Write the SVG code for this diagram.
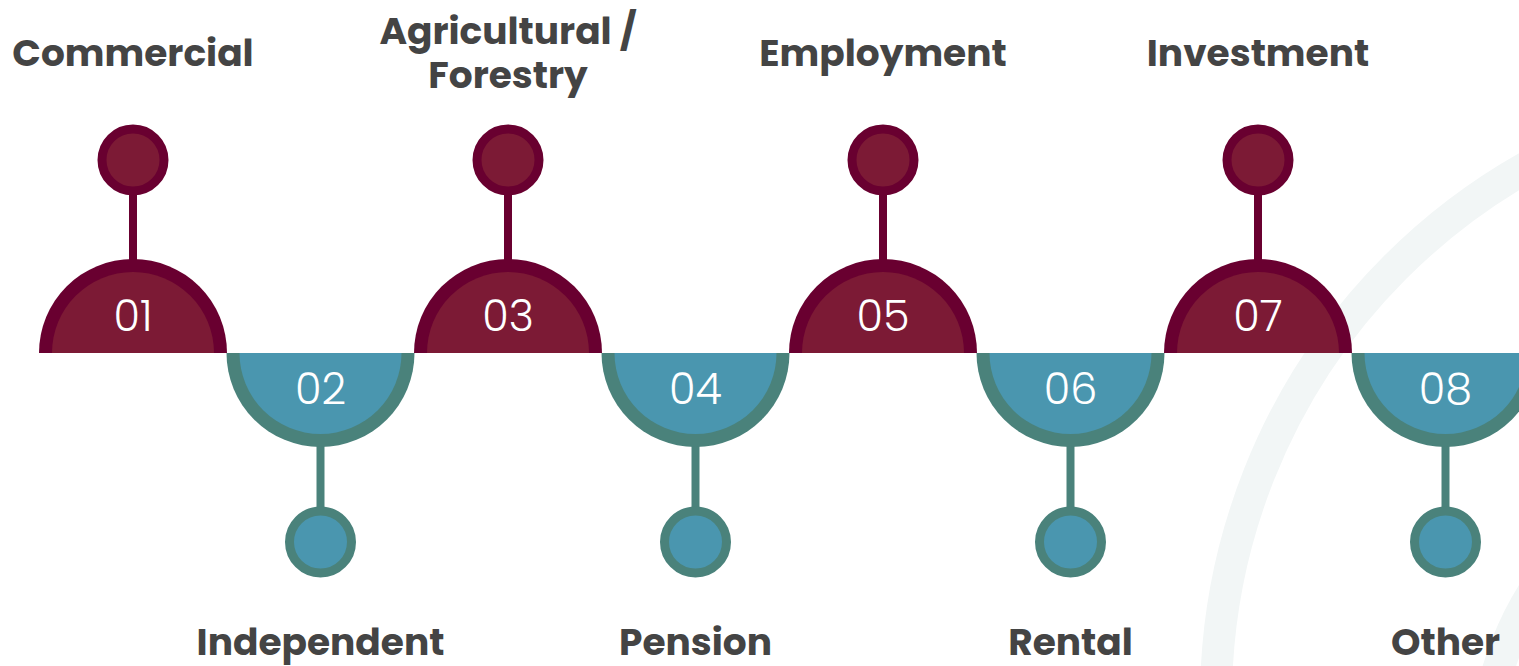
<svg xmlns="http://www.w3.org/2000/svg" width="1519" height="666" viewBox="0 0 1519 666">
<style>
.bg{fill:none;stroke:#F2F6F6;stroke-width:32}
.mo{fill:#690030}
.mi{fill:#7C1A35}
.to{fill:#4A827B}
.ti{fill:#4A96AF}
.mc{fill:#7C1A35;stroke:#690030;stroke-width:9}
.tc{fill:#4A96AF;stroke:#4A827B;stroke-width:9}
.ms{stroke:#690030;stroke-width:8}
.ts{stroke:#4A827B;stroke-width:8}
.num{font-family:Poppins,Inter,"Open Sans",sans-serif;font-weight:300;font-size:43px;fill:#ffffff;text-anchor:middle}
.lbl{font-family:Poppins,Inter,"Open Sans",sans-serif;font-weight:700;font-size:37.5px;fill:#444444;text-anchor:middle}
</style>
<rect width="1519" height="666" fill="#ffffff"/>
<circle class="bg" cx="1828" cy="700" r="612"/>
<circle class="bg" cx="1800" cy="760" r="315"/>
<g id="connectors">
<line class="ms" x1="133" y1="195" x2="133" y2="262"/>
<line class="ts" x1="320.5" y1="445" x2="320.5" y2="508"/>
<line class="ms" x1="508" y1="195" x2="508" y2="262"/>
<line class="ts" x1="695.5" y1="445" x2="695.5" y2="508"/>
<line class="ms" x1="883" y1="195" x2="883" y2="262"/>
<line class="ts" x1="1070.5" y1="445" x2="1070.5" y2="508"/>
<line class="ms" x1="1258" y1="195" x2="1258" y2="262"/>
<line class="ts" x1="1445.5" y1="445" x2="1445.5" y2="508"/>
</g>
<g id="node01">
<path class="mo" d="M39,353 A94,94 0 0 1 227,353 Z"/>
<path class="mi" d="M52,353 A81,81 0 0 1 214,353 Z"/>
<text class="num" x="133" y="331">01</text>
<circle class="mc" cx="133" cy="160" r="31"/>
<text class="lbl" x="133" y="66">Commercial</text>
</g>
<g id="node02">
<path class="to" d="M226.5,353 A94,94 0 0 0 414.5,353 Z"/>
<path class="ti" d="M239.5,353 A81,81 0 0 0 401.5,353 Z"/>
<text class="num" x="320.5" y="404">02</text>
<circle class="tc" cx="320.5" cy="542" r="31"/>
<text class="lbl" x="320.5" y="655">Independent</text>
</g>
<g id="node03">
<path class="mo" d="M414,353 A94,94 0 0 1 602,353 Z"/>
<path class="mi" d="M427,353 A81,81 0 0 1 589,353 Z"/>
<text class="num" x="508" y="331">03</text>
<circle class="mc" cx="508" cy="160" r="31"/>
<text class="lbl" x="508" y="44">Agricultural /</text>
<text class="lbl" x="508" y="88">Forestry</text>
</g>
<g id="node04">
<path class="to" d="M601.5,353 A94,94 0 0 0 789.5,353 Z"/>
<path class="ti" d="M614.5,353 A81,81 0 0 0 776.5,353 Z"/>
<text class="num" x="695.5" y="404">04</text>
<circle class="tc" cx="695.5" cy="542" r="31"/>
<text class="lbl" x="695.5" y="655">Pension</text>
</g>
<g id="node05">
<path class="mo" d="M789,353 A94,94 0 0 1 977,353 Z"/>
<path class="mi" d="M802,353 A81,81 0 0 1 964,353 Z"/>
<text class="num" x="883" y="331">05</text>
<circle class="mc" cx="883" cy="160" r="31"/>
<text class="lbl" x="883" y="66">Employment</text>
</g>
<g id="node06">
<path class="to" d="M976.5,353 A94,94 0 0 0 1164.5,353 Z"/>
<path class="ti" d="M989.5,353 A81,81 0 0 0 1151.5,353 Z"/>
<text class="num" x="1070.5" y="404">06</text>
<circle class="tc" cx="1070.5" cy="542" r="31"/>
<text class="lbl" x="1070.5" y="655">Rental</text>
</g>
<g id="node07">
<path class="mo" d="M1164,353 A94,94 0 0 1 1352,353 Z"/>
<path class="mi" d="M1177,353 A81,81 0 0 1 1339,353 Z"/>
<text class="num" x="1258" y="331">07</text>
<circle class="mc" cx="1258" cy="160" r="31"/>
<text class="lbl" x="1258" y="66">Investment</text>
</g>
<g id="node08">
<path class="to" d="M1351.5,353 A94,94 0 0 0 1539.5,353 Z"/>
<path class="ti" d="M1364.5,353 A81,81 0 0 0 1526.5,353 Z"/>
<text class="num" x="1445.5" y="404">08</text>
<circle class="tc" cx="1445.5" cy="542" r="31"/>
<text class="lbl" x="1445.5" y="655">Other</text>
</g>
</svg>
